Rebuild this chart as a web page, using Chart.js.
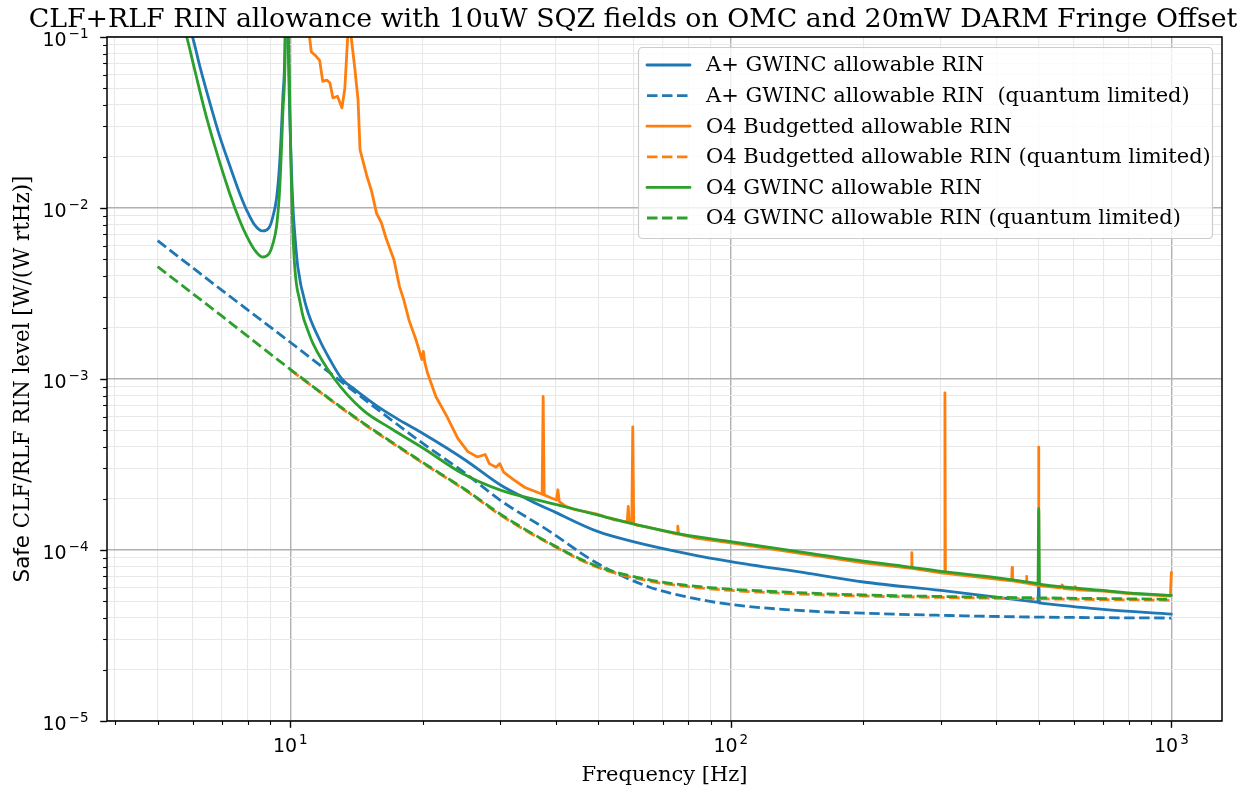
<!DOCTYPE html>
<html>
<head>
<meta charset="utf-8">
<script src="https://cdn.jsdelivr.net/npm/chart.js@4.4.1/dist/chart.umd.min.js"></script>
<style>
  html, body { margin: 0; padding: 0; background: #fff; }
</style>
</head>
<body>
<canvas id="rinChart" width="1250" height="790"></canvas>
<script>
// --- textos ---
const titleText = 'CLF+RLF RIN allowance with 10uW SQZ fields on OMC and 20mW DARM Fringe Offset';
const xLabel = 'Frequency [Hz]';
const yLabelSans = 'Safe';
const yLabelSerif = ' CLF/RLF RIN level [W/(W rtHz)]';

// --- ejes (log) ---
const xMin = 3.837, xMax = 1303;
const yMin = 1e-5, yMax = 1e-1;
const xTicks = [4, 5, 6, 7, 8, 9, 10, 20, 30, 40, 50, 60, 70, 80, 90, 100,
  200, 300, 400, 500, 600, 700, 800, 900, 1000];
const yTicks = [1e-5, 2e-5, 3e-5, 4e-5, 5e-5, 6e-5, 7e-5, 8e-5, 9e-5,
  1e-4, 2e-4, 3e-4, 4e-4, 5e-4, 6e-4, 7e-4, 8e-4, 9e-4,
  1e-3, 2e-3, 3e-3, 4e-3, 5e-3, 6e-3, 7e-3, 8e-3, 9e-3,
  1e-2, 2e-2, 3e-2, 4e-2, 5e-2, 6e-2, 7e-2, 8e-2, 9e-2, 1e-1];

// --- A+ GWINC allowable RIN ---
const aplusFreq = [5, 5.6, 6.0, 6.23, 6.56, 6.91, 7.28, 7.67, 7.96, 8.3, 8.65, 8.97, 9.13, 9.31, 9.46, 9.62,
  9.73, 9.8, 9.89, 10.05, 10.14, 10.25, 10.4, 10.87, 11.66, 12.3, 13.1, 14, 15, 16, 18, 20, 25, 30, 35, 40,
  50, 60, 80, 100, 150, 200, 300, 400, 490, 497, 498, 500, 502, 503, 510, 700, 1000];
const aplusRin = [0.35, 0.16, 0.1, 0.0677, 0.0417, 0.0264, 0.01785, 0.01225, 0.00973, 0.00796, 0.00734, 0.00775,
  0.00889, 0.01144, 0.01832, 0.0446, 0.1, 1.0, 0.1, 0.0183, 0.0102, 0.0068, 0.00454, 0.00265, 0.00169, 0.0013,
  0.001, 8.7e-4, 7.6e-4, 6.75e-4, 5.6e-4, 4.8e-4, 3.35e-4, 2.4e-4, 1.95e-4, 1.66e-4,
  1.28e-4, 1.12e-4, 9.5e-5, 8.55e-5, 7.3e-5, 6.5e-5, 5.8e-5, 5.3e-5, 4.97e-5, 4.95e-5, 4.94e-5, 6.4e-5,
  4.9e-5, 4.9e-5, 4.88e-5, 4.5e-5, 4.22e-5];

// --- A+ GWINC allowable RIN (quantum limited) ---
const aplusQlFreq = [5, 7, 10, 14, 20, 25, 30, 38.7, 50, 65, 80, 100, 150, 200, 300, 500, 700, 1000];
const aplusQlRin = [6.44e-3, 3.3e-3, 1.64e-3, 8.4e-4, 4.2e-4, 2.8e-4, 1.95e-4, 1.29e-4, 8.3e-5, 6.1e-5,
  5.3e-5, 4.8e-5, 4.4e-5, 4.27e-5, 4.15e-5, 4.05e-5, 4.02e-5, 4.0e-5];

// --- O4 Budgetted allowable RIN (medido, con líneas) ---
const o4BudFreq = [10, 10.6, 11.06, 11.16, 11.4, 11.66, 11.85, 12.1, 12.3, 12.5, 12.8, 13.1, 13.3, 13.5, 13.6,
  13.75, 14.0, 14.25, 14.4, 14.9, 15.3, 15.7, 16.1, 16.5, 17.2, 17.7, 18.1, 18.6, 19.3, 19.9, 20.05, 20.2,
  20.5, 21.4, 22.7, 24, 25.3, 26.6, 27.7, 28.3, 29.3, 29.9, 30.5, 32, 34.1, 36.6, 37.3, 37.5, 37.7, 39,
  40.2, 40.5, 40.8, 42.2, 44.3, 47, 49.7, 52, 54.4, 58.2, 58.5, 58.8, 59.6, 59.9, 60.2, 61, 64.7, 70,
  75.5, 75.8, 76.1, 84, 100, 150, 200, 257, 257.5, 258, 300, 305.5, 306.2, 307, 400, 434, 435, 436,
  468, 469, 470, 498.5, 499.5, 500.5, 560, 565, 570, 600, 605, 610, 700, 800, 995, 1000];
const o4BudRin = [0.3, 0.13, 0.1, 0.082, 0.078, 0.073, 0.055, 0.056, 0.054, 0.044, 0.045, 0.0385, 0.05, 0.1, 0.105,
  0.1, 0.067, 0.043, 0.0219, 0.0156, 0.0125, 0.0093, 0.0082, 0.00665, 0.00497, 0.00347, 0.0029, 0.00221,
  0.00169, 0.0013, 0.00145, 0.00125, 0.00108, 7.9e-4, 6.0e-4, 4.5e-4, 3.76e-4, 3.5e-4, 3.62e-4, 3.2e-4,
  3.05e-4, 3.2e-4, 2.85e-4, 2.6e-4, 2.32e-4, 2.16e-4, 2.12e-4, 7.9e-4, 2.1e-4, 2.02e-4, 1.96e-4, 2.25e-4,
  1.92e-4, 1.8e-4, 1.72e-4, 1.67e-4, 1.62e-4, 1.56e-4, 1.5e-4, 1.46e-4, 1.8e-4, 1.45e-4, 1.44e-4, 5.25e-4,
  1.42e-4, 1.4e-4, 1.36e-4, 1.3e-4, 1.24e-4, 1.38e-4, 1.24e-4, 1.17e-4, 1.1e-4, 9.4e-5, 8.4e-5, 7.8e-5,
  9.65e-5, 7.8e-5, 7.35e-5, 7.3e-5, 8.3e-4, 7.3e-5, 6.75e-5, 6.6e-5, 7.9e-5, 6.6e-5, 6.4e-5, 7.0e-5, 6.4e-5,
  6.2e-5, 4.0e-4, 6.2e-5, 6.0e-5, 6.25e-5, 5.95e-5, 5.88e-5, 6.1e-5, 5.85e-5, 5.75e-5, 5.55e-5, 5.38e-5, 7.4e-5];

// --- O4 Budgetted allowable RIN (quantum limited) ---
const o4BudQlFreq = [10, 14, 20, 25, 30, 38.7, 50, 65, 80, 100, 150, 200, 300, 500, 700, 1000];
const o4BudQlRin = [1.13e-3, 5.95e-4, 3.22e-4, 2.23e-4, 1.6e-4, 1.09e-4, 7.9e-5, 6.6e-5, 6.1e-5, 5.8e-5,
  5.5e-5, 5.38e-5, 5.28e-5, 5.18e-5, 5.13e-5, 5.08e-5];

// --- O4 GWINC allowable RIN ---
const o4Freq = [5, 5.5, 5.82, 6.07, 6.39, 6.73, 7.28, 7.67, 7.96, 8.3, 8.65, 8.97, 9.13, 9.31, 9.46, 9.62,
  9.75, 9.82, 9.91, 10.05, 10.14, 10.2, 10.32, 10.5, 10.7, 10.9, 11.25, 12.6, 14.6, 17, 20, 24.6, 30, 40,
  50, 60, 78, 100, 150, 200, 250, 300, 400, 490, 497, 498, 500, 502, 503, 510, 700, 800, 1000];
const o4Rin = [0.4, 0.16, 0.1, 0.0641, 0.0374, 0.0233, 0.01225, 0.00851, 0.00686, 0.00568, 0.00517, 0.00546,
  0.00616, 0.00785, 0.01274, 0.036, 0.1, 1.0, 0.1, 0.01524, 0.00715, 0.0052, 0.00364, 0.0029, 0.0023, 0.002,
  0.00162, 0.001, 6.6e-4, 5.1e-4, 3.95e-4, 2.8e-4, 2.24e-4, 1.85e-4,
  1.6e-4, 1.42e-4, 1.23e-4, 1.12e-4, 9.6e-5, 8.6e-5, 8.0e-5, 7.5e-5, 6.9e-5, 6.4e-5, 6.36e-5, 6.35e-5,
  1.75e-4, 6.33e-5, 6.32e-5, 6.28e-5, 5.8e-5, 5.62e-5, 5.43e-5];

// --- O4 GWINC allowable RIN (quantum limited) ---
const o4QlFreq = [5, 7, 10, 14, 20, 25, 30, 38.7, 50, 65, 80, 100, 150, 200, 300, 500, 700, 1000];
const o4QlRin = [4.54e-3, 2.33e-3, 1.14e-3, 6.0e-4, 3.25e-4, 2.25e-4, 1.62e-4, 1.1e-4, 8.0e-5, 6.7e-5,
  6.2e-5, 5.9e-5, 5.6e-5, 5.46e-5, 5.35e-5, 5.25e-5, 5.2e-5, 5.15e-5];

const BLUE = '#1f77b4', ORANGE = '#ff7f0e', GREEN = '#2ca02c';
const LW = 2.8;
const DASH = [10.5, 4.5];
const SERIF = '"DejaVu Serif"';
const SANS = '"DejaVu Sans"';
const FONT_PX = 21;

const toXY = (fs, vs) => fs.map((f, i) => ({ x: f, y: vs[i] }));
const isPow10 = v => Math.abs(Math.log10(v) - Math.round(Math.log10(v))) < 1e-9;

// Serie: estilo base compartido; el orden reproduce el apilado de matplotlib (la última encima)
function series(label, fs, vs, color, dashed, smooth, idx) {
  return {
    label,
    data: toXY(fs, vs),
    borderColor: color,
    backgroundColor: color,
    borderWidth: LW,
    borderDash: dashed ? DASH : [],
    borderJoinStyle: 'round',
    borderCapStyle: dashed ? 'butt' : 'round',
    pointRadius: 0,
    fill: false,
    cubicInterpolationMode: smooth ? 'monotone' : 'default',
    tension: 0,
    capBezierPoints: false,
    clip: 0,
    order: 10 - idx
  };
}

const datasets = [
  series('A+ GWINC allowable RIN', aplusFreq, aplusRin, BLUE, false, true, 0),
  series('A+ GWINC allowable RIN  (quantum limited)', aplusQlFreq, aplusQlRin, BLUE, true, true, 1),
  series('O4 Budgetted allowable RIN', o4BudFreq, o4BudRin, ORANGE, false, false, 2),
  series('O4 Budgetted allowable RIN (quantum limited)', o4BudQlFreq, o4BudQlRin, ORANGE, true, true, 3),
  series('O4 GWINC allowable RIN', o4Freq, o4Rin, GREEN, false, true, 4),
  series('O4 GWINC allowable RIN (quantum limited)', o4QlFreq, o4QlRin, GREEN, true, true, 5)
];

// Dibuja "10" con exponente elevado al estilo mathtext
function drawPow10(ctx, v, x, baseline, align) {
  const e = Math.round(Math.log10(v));
  const base = '10';
  const sup = e < 0 ? '\u2212' + (-e) : String(e);
  ctx.font = `19px ${SANS}`;
  const wb = ctx.measureText(base).width;
  ctx.font = `13.5px ${SANS}`;
  const ws = ctx.measureText(sup).width;
  const w = wb + ws + 2;
  const left = align === 'right' ? x - w : x - w / 2;
  ctx.textAlign = 'left';
  ctx.textBaseline = 'alphabetic';
  ctx.font = `19px ${SANS}`;
  ctx.fillText(base, left, baseline);
  ctx.font = `13.5px ${SANS}`;
  ctx.fillText(sup, left + wb + 2, baseline - 8);
}

// Marco, marcas, etiquetas, título y leyenda con aspecto matplotlib
const mplDecor = {
  id: 'mplDecor',
  afterDraw(chart) {
    const { ctx, chartArea: a, scales: { x, y } } = chart;
    ctx.save();
    ctx.fillStyle = '#000';
    ctx.strokeStyle = '#000';

    // marcas de los ejes
    x.ticks.forEach(t => {
      const px = Math.round(x.getPixelForValue(t.value)) + 0.5;
      ctx.lineWidth = t.major ? 1.4 : 1.1;
      ctx.beginPath();
      ctx.moveTo(px, a.bottom);
      ctx.lineTo(px, a.bottom + (t.major ? 6.8 : 3.9));
      ctx.stroke();
    });
    y.ticks.forEach(t => {
      const py = Math.round(y.getPixelForValue(t.value)) + 0.5;
      ctx.lineWidth = t.major ? 1.4 : 1.1;
      ctx.beginPath();
      ctx.moveTo(a.left, py);
      ctx.lineTo(a.left - (t.major ? 6.8 : 3.9), py);
      ctx.stroke();
    });

    // marco
    ctx.lineWidth = 1.5;
    ctx.strokeRect(a.left, a.top, a.right - a.left, a.bottom - a.top);

    // etiquetas de marcas mayores
    x.ticks.filter(t => t.major).forEach(t => {
      drawPow10(ctx, t.value, x.getPixelForValue(t.value), a.bottom + 31, 'center');
    });
    y.ticks.filter(t => t.major).forEach(t => {
      drawPow10(ctx, t.value, a.left - 18.5, y.getPixelForValue(t.value) + 8.5, 'right');
    });

    // título
    ctx.font = `26.8px ${SERIF}`;
    ctx.textAlign = 'center';
    ctx.textBaseline = 'alphabetic';
    ctx.fillText(titleText, 633, 27);

    // etiqueta eje X
    ctx.font = `${FONT_PX}px ${SERIF}`;
    ctx.fillText(xLabel, (a.left + a.right) / 2, 781);

    // etiqueta eje Y (mezcla de fuentes como en el original)
    ctx.save();
    ctx.translate(29, (a.top + a.bottom) / 2);
    ctx.rotate(-Math.PI / 2);
    ctx.font = `21.4px ${SANS}`;
    const w1 = ctx.measureText(yLabelSans).width;
    ctx.font = `21.4px ${SERIF}`;
    const w2 = ctx.measureText(yLabelSerif).width;
    ctx.textAlign = 'left';
    ctx.font = `21.4px ${SANS}`;
    ctx.fillText(yLabelSans, -(w1 + w2) / 2, 0);
    ctx.font = `21.4px ${SERIF}`;
    ctx.fillText(yLabelSerif, -(w1 + w2) / 2 + w1, 0);
    ctx.restore();

    // leyenda
    const box = { l: 638, t: 47, r: 1212, b: 238 };
    ctx.beginPath();
    ctx.roundRect(box.l + 0.5, box.t + 0.5, box.r - box.l, box.b - box.t, 4);
    ctx.fillStyle = 'rgba(255,255,255,0.8)';
    ctx.fill();
    ctx.strokeStyle = '#cccccc';
    ctx.lineWidth = 1.2;
    ctx.stroke();

    const rowY = 65, rowStep = 30.6;
    chart.data.datasets.forEach((ds, i) => {
      const cy = rowY + i * rowStep;
      ctx.save();
      ctx.strokeStyle = ds.borderColor;
      ctx.lineWidth = LW;
      ctx.setLineDash(ds.borderDash);
      ctx.lineCap = ds.borderDash.length ? 'butt' : 'round';
      ctx.beginPath();
      ctx.moveTo(647, cy);
      ctx.lineTo(690, cy);
      ctx.stroke();
      ctx.restore();
      ctx.fillStyle = '#000';
      ctx.font = `${FONT_PX}px ${SERIF}`;
      ctx.textAlign = 'left';
      ctx.textBaseline = 'middle';
      ctx.fillText(ds.label, 706, cy + 1);
    });

    ctx.restore();
  }
};

const gridStyle = {
  color: ctx => ctx.tick && ctx.tick.major ? '#b0b0b0' : '#e8e8e8',
  lineWidth: ctx => ctx.tick && ctx.tick.major ? 1.4 : 1.1,
  drawTicks: false
};

new Chart(document.getElementById('rinChart'), {
  type: 'line',
  data: { datasets },
  plugins: [mplDecor],
  options: {
    responsive: false,
    devicePixelRatio: 1,
    animation: false,
    events: [],
    layout: { padding: { top: 37, right: 28, left: 0, bottom: 0 } },
    plugins: { legend: { display: false }, tooltip: { enabled: false }, title: { display: false } },
    scales: {
      x: {
        type: 'logarithmic',
        min: xMin,
        max: xMax,
        afterBuildTicks: s => { s.ticks = xTicks.map(v => ({ value: v, major: isPow10(v) })); },
        afterFit: s => { s.height = 69; },
        ticks: { display: false },
        grid: gridStyle,
        border: { display: false }
      },
      y: {
        type: 'logarithmic',
        min: yMin,
        max: yMax,
        afterBuildTicks: s => { s.ticks = yTicks.map(v => ({ value: v, major: isPow10(v) })); },
        afterFit: s => { s.width = 107; },
        ticks: { display: false },
        grid: gridStyle,
        border: { display: false }
      }
    }
  }
});
</script>
</body>
</html>
